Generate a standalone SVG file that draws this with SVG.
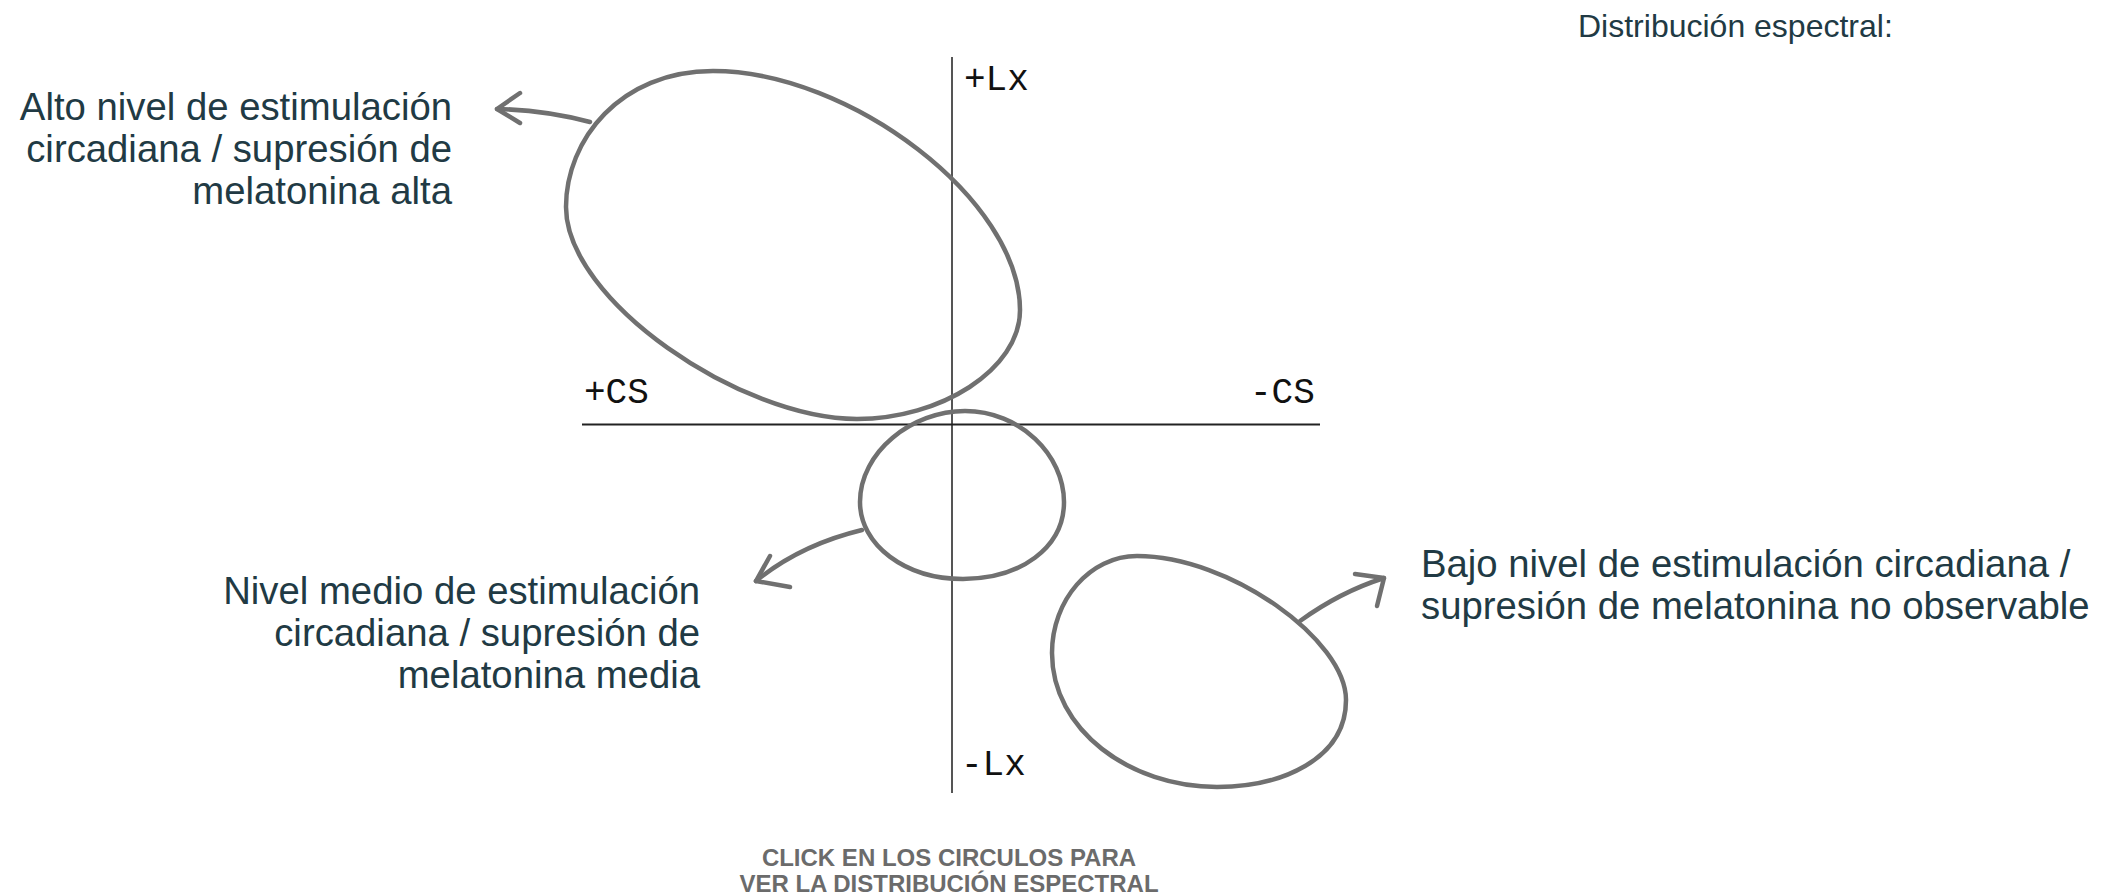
<svg xmlns="http://www.w3.org/2000/svg" width="2126" height="895" viewBox="0 0 2126 895">
  <style>
    .lbl { font-family: "Liberation Sans", Arial, sans-serif; font-size: 38.3px; fill: #213a44; }
    .ax { font-family: "Liberation Mono", "DejaVu Sans Mono", monospace; font-size: 36px; fill: #111; }
    .shape { fill: none; stroke: #707070; stroke-width: 4.5; }
    .arrow { fill: none; stroke: #707070; stroke-width: 4.5; stroke-linecap: round; stroke-linejoin: round; }
    .hint { font-family: "Liberation Sans", Arial, sans-serif; font-size: 24px; font-weight: bold; fill: #6b6b6b; }
  </style>
  <rect width="2126" height="895" fill="#ffffff"/>

  <g id="axes">
    <line x1="952" y1="57" x2="952" y2="793" stroke="#555" stroke-width="2"/>
    <line x1="582" y1="424.5" x2="1320" y2="424.5" stroke="#222" stroke-width="2"/>
    <text class="ax" x="964" y="90">+Lx</text>
    <text class="ax" x="961" y="775">-Lx</text>
    <text class="ax" x="584" y="403">+CS</text>
    <text class="ax" x="1250" y="403">-CS</text>
  </g>

  <g id="title">
    <text class="lbl" style="font-size:32px" x="1578" y="37">Distribución espectral:</text>
  </g>

  <g id="node-alto">
    <path class="shape" d="M 713 71 C 850 71 1020 200 1020 310 C 1020 370 940 419 857 419 C 740 419 566 300 566 207 C 566 140 620 71 713 71 Z"/>
    <text class="lbl" text-anchor="end" x="452"><tspan x="452" y="120">Alto nivel de estimulación</tspan><tspan x="452" y="162">circadiana / supresión de</tspan><tspan x="452" y="204">melatonina alta</tspan></text>
  </g>

  <g id="node-medio">
    <path class="shape" d="M 965 411 C 1020 411 1064 455 1064 502 C 1064 548 1020 579 963 579 C 905 579 860 545 860 502 C 860 452 912 411 965 411 Z"/>
    <text class="lbl" text-anchor="end" x="700"><tspan x="700" y="604">Nivel medio de estimulación</tspan><tspan x="700" y="646">circadiana / supresión de</tspan><tspan x="700" y="688">melatonina media</tspan></text>
  </g>

  <g id="node-bajo">
    <path class="shape" d="M 1137 556 C 1230 556 1346 640 1346 700 C 1346 760 1280 787 1217 787 C 1130 787 1052 730 1052 653 C 1052 600 1090 556 1137 556 Z"/>
    <text class="lbl" x="1421"><tspan x="1421" y="577">Bajo nivel de estimulación circadiana /</tspan><tspan x="1421" y="619">supresión de melatonina no observable</tspan></text>
  </g>

  <g id="connectors">
    <path class="arrow" d="M 590 122 Q 545 110 497 109"/>
    <polyline class="arrow" points="520,93 497,109 520,123"/>
    <path class="arrow" d="M 862 530 Q 800 545 756 581"/>
    <polyline class="arrow" points="770,556 756,581 790,587"/>
    <path class="arrow" d="M 1300 621 Q 1340 592 1384 578"/>
    <polyline class="arrow" points="1355,574 1384,578 1377,606"/>
  </g>

  <g id="hint">
    <text class="hint" text-anchor="middle" x="949" y="866">CLICK EN LOS CIRCULOS PARA</text>
    <text class="hint" text-anchor="middle" x="949" y="892">VER LA DISTRIBUCIÓN ESPECTRAL</text>
  </g>
</svg>
